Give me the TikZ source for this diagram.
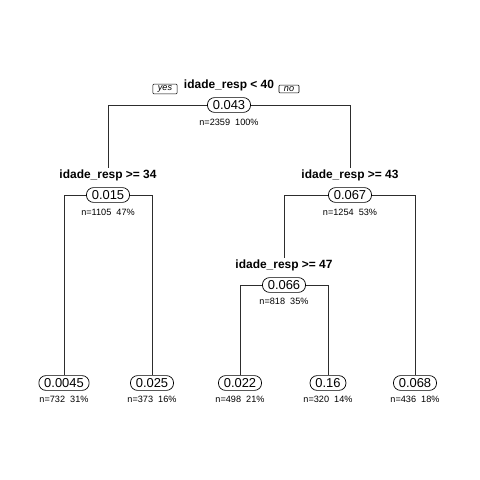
\documentclass[tikz,border=0pt]{standalone}
\usepackage{fontspec}
\setmainfont{Liberation Sans}
\definecolor{edgecolor}{RGB}{45,45,45}

\begin{document}
\begin{tikzpicture}[x=0.025cm, y=-0.025cm,
        split/.style={font=\bfseries\fontsize{8.5}{10}\selectfont, inner sep=1pt},
        yval/.style={draw=black, line width=0.5pt, fill=white, rounded corners=5pt,
            minimum height=10.5pt, inner xsep=3.8pt, inner ysep=1pt,
            font=\fontsize{9.2}{10}\selectfont},
        stats/.style={font=\fontsize{6.5}{7}\selectfont, inner sep=1pt},
        yesno/.style={draw=black, line width=0.4pt, rounded corners=0.6pt, inner xsep=3.5pt,
            inner ysep=1pt, font=\itshape\fontsize{6.5}{7}\selectfont},
        edge/.style={draw=edgecolor, line width=0.5pt}
    ]
    \useasboundingbox (0,0) rectangle (480,480);

    % root
    \node[split] (lab0) at (229, 85) {idade\_resp < 40};
    \node[yesno] (yes) at (165, 89) {yes};
    \node[yesno] (no) at (289, 89) {no};
    \node[yval] (n0) at (229, 105) {0.043};
    \node[stats] (s0) at (229, 122) {n=2359\ \ 100\%};

    % left split
    \node[split] (lab1) at (108, 175) {idade\_resp >= 34};
    \node[yval] (n1) at (108, 195) {0.015};
    \node[stats] (s1) at (108, 212) {n=1105\ \ 47\%};

    % right split
    \node[split] (lab2) at (350, 175) {idade\_resp >= 43};
    \node[yval] (n2) at (350, 195) {0.067};
    \node[stats] (s2) at (350, 212) {n=1254\ \ 53\%};

    \node[split] (lab3) at (284, 265) {idade\_resp >= 47};
    \node[yval] (n3) at (284, 285) {0.066};
    \node[stats] (s3) at (284, 301) {n=818\ \ 35\%};

    % leaves
    \node[yval] (l1) at (64, 383) {0.0045};
    \node[stats] at (64, 399) {n=732\ \ 31\%};
    \node[yval] (l2) at (152, 383) {0.025};
    \node[stats] at (152, 399) {n=373\ \ 16\%};
    \node[yval] (l3) at (240, 383) {0.022};
    \node[stats] at (240, 399) {n=498\ \ 21\%};
    \node[yval] (l4) at (328, 383) {0.16};
    \node[stats] at (328, 399) {n=320\ \ 14\%};
    \node[yval] (l5) at (415, 383) {0.068};
    \node[stats] at (415, 399) {n=436\ \ 18\%};

    % connectors
    \draw[edge] (n0.west) -| (lab1.north);
    \draw[edge] (n0.east) -| (lab2.north);
    \draw[edge] (n1.west) -| (l1.north);
    \draw[edge] (n1.east) -| (l2.north);
    \draw[edge] (n2.west) -| (lab3.north);
    \draw[edge] (n2.east) -| (l5.north);
    \draw[edge] (n3.west) -| (l3.north);
    \draw[edge] (n3.east) -| (l4.north);
\end{tikzpicture}
\end{document}
